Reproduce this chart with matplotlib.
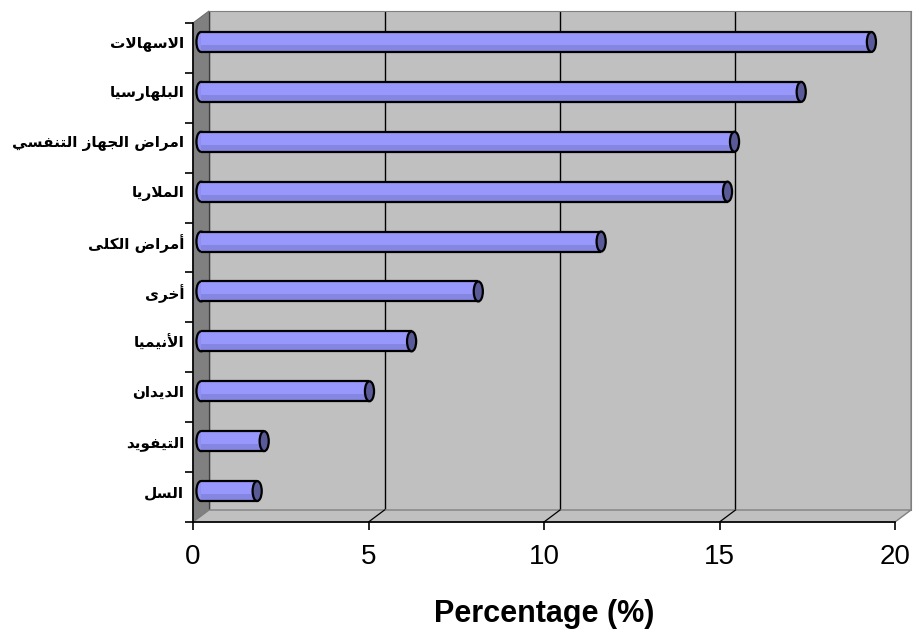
import matplotlib
matplotlib.use('Agg')
import matplotlib.pyplot as plt
from matplotlib.patches import Ellipse, Polygon
from matplotlib.lines import Line2D

categories = ['الاسهالات', 'البلهارسيا', 'امراض الجهاز التنفسي', 'الملاريا', 'أمراض الكلى',
              'أخرى', 'الأنيميا', 'الديدان', 'التيفويد', 'السل']
values = [19.1, 17.1, 15.2, 15.0, 11.4, 7.9, 6.0, 4.8, 1.8, 1.6]
xticks = [0, 5, 10, 15, 20]
xlabel = 'Percentage (%)'

# arabic presentation forms: isolated, final, initial, medial
FORMS = {
    'ا': ('\uFE8D', '\uFE8E', None, None),
    'أ': ('\uFE83', '\uFE84', None, None),
    'ب': ('\uFE8F', '\uFE90', '\uFE91', '\uFE92'),
    'ت': ('\uFE95', '\uFE96', '\uFE97', '\uFE98'),
    'ج': ('\uFE9D', '\uFE9E', '\uFE9F', '\uFEA0'),
    'خ': ('\uFEA5', '\uFEA6', '\uFEA7', '\uFEA8'),
    'د': ('\uFEA9', '\uFEAA', None, None),
    'ر': ('\uFEAD', '\uFEAE', None, None),
    'ز': ('\uFEAF', '\uFEB0', None, None),
    'س': ('\uFEB1', '\uFEB2', '\uFEB3', '\uFEB4'),
    'ض': ('\uFEBD', '\uFEBE', '\uFEBF', '\uFEC0'),
    'ف': ('\uFED1', '\uFED2', '\uFED3', '\uFED4'),
    'ك': ('\uFED9', '\uFEDA', '\uFEDB', '\uFEDC'),
    'ل': ('\uFEDD', '\uFEDE', '\uFEDF', '\uFEE0'),
    'م': ('\uFEE1', '\uFEE2', '\uFEE3', '\uFEE4'),
    'ن': ('\uFEE5', '\uFEE6', '\uFEE7', '\uFEE8'),
    'ه': ('\uFEE9', '\uFEEA', '\uFEEB', '\uFEEC'),
    'و': ('\uFEED', '\uFEEE', None, None),
    'ى': ('\uFEEF', '\uFEF0', None, None),
    'ي': ('\uFEF1', '\uFEF2', '\uFEF3', '\uFEF4'),
}
LAM_ALEF = {'ا': ('\uFEFB', '\uFEFC'), 'أ': ('\uFEF7', '\uFEF8')}


def shape(text):
    # matplotlib has no arabic shaping, so join the letters by hand and reverse
    chars = []
    i = 0
    while i < len(text):
        if text[i] == 'ل' and i + 1 < len(text) and text[i + 1] in LAM_ALEF:
            chars.append(('LA', text[i + 1]))
            i += 2
        else:
            chars.append((text[i], None))
            i += 1
    out = []
    for k, (c, a) in enumerate(chars):
        prev = chars[k - 1][0] if k > 0 else None
        nxt = chars[k + 1][0] if k + 1 < len(chars) else None
        jp = prev in FORMS and FORMS[prev][2] is not None
        if c == 'LA':
            out.append(LAM_ALEF[a][1] if jp else LAM_ALEF[a][0])
        elif c in FORMS:
            f = FORMS[c]
            jn = f[2] is not None and (nxt in FORMS or nxt == 'LA')
            if jp and jn:
                out.append(f[3])
            elif jp:
                out.append(f[1])
            elif jn:
                out.append(f[2])
            else:
                out.append(f[0])
        else:
            out.append(c)
    return ''.join(reversed(out))


W, H = 916, 642
fig = plt.figure(figsize=(W / 100, H / 100), dpi=100)
fig.patch.set_facecolor('white')


def box(x0, y0, x1, y1):
    return [x0 / W, 1 - y1 / H, (x1 - x0) / W, (y1 - y0) / H]


ypos = list(range(len(categories)))

# back wall
ax_back = fig.add_axes(box(209, 11, 911, 510))
ax_back.set_zorder(0)
ax_back.set_facecolor('#c0c0c0')
ax_back.set_xlim(0, 20)
ax_back.set_ylim(len(categories) - 0.5, -0.5)
ax_back.set_xticks(xticks)
ax_back.set_yticks([])
ax_back.tick_params(length=0, labelbottom=False)
ax_back.grid(axis='x', color='black', lw=1)
for s in ['left', 'bottom']:
    ax_back.spines[s].set_visible(False)
for s in ['top', 'right']:
    ax_back.spines[s].set_color('#808080')

# side wall and floor
tf = fig.transFigure
def fp(x, y):
    return (x / W, 1 - y / H)
fig.patches.append(Polygon([fp(193, 23), fp(209, 11), fp(209, 510), fp(193, 522)],
                           closed=True, facecolor='#808080', edgecolor='#707070', lw=0.8,
                           transform=tf, zorder=1))
fig.patches.append(Polygon([fp(193, 522), fp(209, 510), fp(911, 510), fp(895, 522)],
                           closed=True, facecolor='#c0c0c0', edgecolor='#808080', lw=1,
                           transform=tf, zorder=1))

# bars at mid depth
ax = fig.add_axes(box(201, 17, 903, 516))
ax.set_zorder(3)
ax.patch.set_visible(False)
ax.set_xlim(0, 20)
ax.set_ylim(len(categories) - 0.5, -0.5)
for s in ax.spines.values():
    s.set_visible(False)

h = 0.4
ax.barh(ypos, values, height=h, color='#8585e2', edgecolor='none', zorder=2)
ax.barh([y - 0.07 for y in ypos], values, height=0.26, color='#9898fc', edgecolor='none', zorder=3)
ax.hlines([y - h / 2 for y in ypos], 0, values, color='black', lw=1.6, zorder=4)
ax.hlines([y + h / 2 for y in ypos], 0, values, color='black', lw=1.6, zorder=4)
for y, v in zip(ypos, values):
    ax.add_patch(Ellipse((0, y), 0.26, h, facecolor='#8f8ff0', edgecolor='black', lw=1.6,
                         zorder=1, clip_on=False))
    ax.add_patch(Ellipse((v, y), 0.26, h, facecolor='#5a5a98', edgecolor='black', lw=1.6, zorder=5))

ax.set_xticks([])
ax.set_yticks(ypos)
ax.set_yticklabels([shape(c) for c in categories], family=['DejaVu Sans'],
                   fontweight='bold', fontsize=11)
ax.tick_params(axis='y', length=0, pad=12)

# front axis lines and ticks
axf = fig.add_axes(box(193, 23, 895, 522))
axf.set_zorder(4)
axf.patch.set_visible(False)
axf.set_xlim(0, 20)
axf.set_ylim(len(categories) - 0.5, -0.5)
for s in ['top', 'right']:
    axf.spines[s].set_visible(False)
for s in ['left', 'bottom']:
    axf.spines[s].set_color('black')
    axf.spines[s].set_linewidth(1.2)
axf.set_xticks(xticks)
axf.set_xticklabels([str(t) for t in xticks], family='Liberation Sans', fontsize=20)
axf.set_yticks([y - 0.5 for y in ypos] + [len(categories) - 0.5])
axf.set_yticklabels([])
axf.tick_params(direction='out', length=6, width=1.2, color='black')
axf.tick_params(axis='x', pad=10)
axf.set_xlabel(xlabel, family='Liberation Sans', fontweight='bold', fontsize=22, labelpad=21)

# floor gridlines from front ticks to the back wall
inv = fig.transFigure.inverted()
for t in xticks[1:-1]:
    p1 = inv.transform(axf.transData.transform((t, len(categories) - 0.5)))
    p2 = inv.transform(ax_back.transData.transform((t, len(categories) - 0.5)))
    fig.add_artist(Line2D([p1[0], p2[0]], [p1[1], p2[1]], color='black', lw=0.9,
                          transform=tf, zorder=2))

fig.savefig('out.png', dpi=100)
